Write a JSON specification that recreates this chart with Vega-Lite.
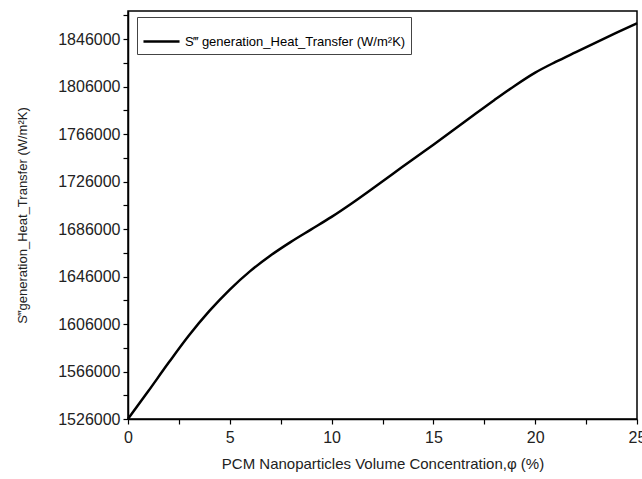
{
  "$schema": "https://vega.github.io/schema/vega-lite/v6.json",
  "width": 509,
  "height": 408,
  "autosize": {"type": "none"},
  "padding": {"left": 128, "top": 11, "right": 5, "bottom": 60},
  "background": "white",
  "config": {
    "font": "Liberation Sans",
    "view": {"stroke": "black", "strokeWidth": 1.5},
    "axis": {
      "domainColor": "black",
      "domainWidth": 1.5,
      "tickColor": "black",
      "tickWidth": 1.2,
      "tickSize": 5,
      "labelFont": "Liberation Sans",
      "labelFontSize": 16,
      "labelColor": "#222",
      "titleFont": "Liberation Sans",
      "titleFontWeight": "normal",
      "titleFontSize": 15,
      "titleColor": "#222",
      "grid": false
    }
  },
  "data": {
    "values": [
      {"phi": 0, "S": 1526000, "series": "S‴ generation_Heat_Transfer (W/m²K)"},
      {"phi": 1, "S": 1549500, "series": "S‴ generation_Heat_Transfer (W/m²K)"},
      {"phi": 2, "S": 1573500, "series": "S‴ generation_Heat_Transfer (W/m²K)"},
      {"phi": 3, "S": 1596500, "series": "S‴ generation_Heat_Transfer (W/m²K)"},
      {"phi": 4, "S": 1617000, "series": "S‴ generation_Heat_Transfer (W/m²K)"},
      {"phi": 5, "S": 1635000, "series": "S‴ generation_Heat_Transfer (W/m²K)"},
      {"phi": 6, "S": 1650500, "series": "S‴ generation_Heat_Transfer (W/m²K)"},
      {"phi": 7, "S": 1663700, "series": "S‴ generation_Heat_Transfer (W/m²K)"},
      {"phi": 8, "S": 1675200, "series": "S‴ generation_Heat_Transfer (W/m²K)"},
      {"phi": 9, "S": 1685700, "series": "S‴ generation_Heat_Transfer (W/m²K)"},
      {"phi": 10, "S": 1696200, "series": "S‴ generation_Heat_Transfer (W/m²K)"},
      {"phi": 11, "S": 1707700, "series": "S‴ generation_Heat_Transfer (W/m²K)"},
      {"phi": 12, "S": 1719900, "series": "S‴ generation_Heat_Transfer (W/m²K)"},
      {"phi": 13, "S": 1732300, "series": "S‴ generation_Heat_Transfer (W/m²K)"},
      {"phi": 14, "S": 1744800, "series": "S‴ generation_Heat_Transfer (W/m²K)"},
      {"phi": 15, "S": 1757000, "series": "S‴ generation_Heat_Transfer (W/m²K)"},
      {"phi": 16, "S": 1769500, "series": "S‴ generation_Heat_Transfer (W/m²K)"},
      {"phi": 17, "S": 1782200, "series": "S‴ generation_Heat_Transfer (W/m²K)"},
      {"phi": 18, "S": 1794700, "series": "S‴ generation_Heat_Transfer (W/m²K)"},
      {"phi": 19, "S": 1806700, "series": "S‴ generation_Heat_Transfer (W/m²K)"},
      {"phi": 20, "S": 1817700, "series": "S‴ generation_Heat_Transfer (W/m²K)"},
      {"phi": 21, "S": 1826700, "series": "S‴ generation_Heat_Transfer (W/m²K)"},
      {"phi": 22, "S": 1835000, "series": "S‴ generation_Heat_Transfer (W/m²K)"},
      {"phi": 23, "S": 1843200, "series": "S‴ generation_Heat_Transfer (W/m²K)"},
      {"phi": 24, "S": 1851300, "series": "S‴ generation_Heat_Transfer (W/m²K)"},
      {"phi": 25, "S": 1859300, "series": "S‴ generation_Heat_Transfer (W/m²K)"}
    ]
  },
  "mark": {"type": "line", "interpolate": "monotone", "strokeWidth": 2.5},
  "encoding": {
    "x": {
      "field": "phi",
      "type": "quantitative",
      "scale": {"domain": [0, 25], "nice": false, "zero": false},
      "axis": {
        "title": "PCM Nanoparticles Volume Concentration,φ (%)",
        "values": [0, 2.5, 5, 7.5, 10, 12.5, 15, 17.5, 20, 22.5, 25],
        "labelExpr": "datum.value % 5 == 0 ? datum.value : ''",
        "labelPadding": 5,
        "titlePadding": 11,
        "labelFlush": false,
        "labelOverlap": false
      }
    },
    "y": {
      "field": "S",
      "type": "quantitative",
      "scale": {"domain": [1526000, 1869600], "nice": false, "zero": false},
      "axis": {
        "title": "S‴generation_Heat_Transfer (W/m²K)",
        "titleFontSize": 13,
        "values": [1526000, 1546000, 1566000, 1586000, 1606000, 1626000, 1646000, 1666000, 1686000, 1706000, 1726000, 1746000, 1766000, 1786000, 1806000, 1826000, 1846000, 1866000],
        "labelExpr": "(datum.value - 1526000) % 40000 == 0 ? format(datum.value, 'd') : ''",
        "labelPadding": 3,
        "titlePadding": 28,
        "labelFlush": false,
        "labelOverlap": false
      }
    },
    "color": {
      "field": "series",
      "type": "nominal",
      "scale": {"range": ["black"]},
      "legend": {
        "title": null,
        "orient": "none",
        "legendX": 9,
        "legendY": 6,
        "symbolType": "stroke",
        "symbolSize": 1300,
        "symbolStrokeWidth": 2.5,
        "labelFontSize": 13,
        "labelColor": "black",
        "labelFont": "Liberation Sans",
        "strokeColor": "#444",
        "padding": 5,
        "labelLimit": 400
      }
    }
  }
}
